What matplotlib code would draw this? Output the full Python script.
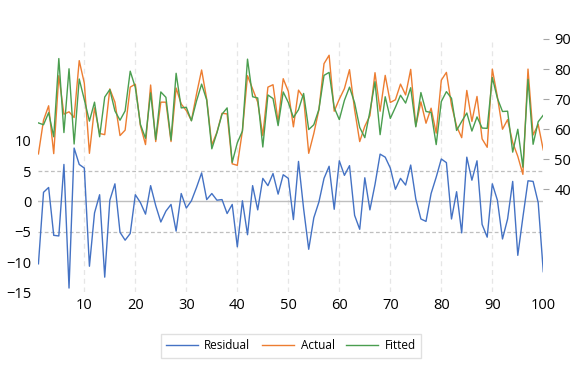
import matplotlib
matplotlib.use("Agg")
import matplotlib.pyplot as plt

plt.rcParams["font.family"] = ["Open Sans", "DejaVu Sans"]

obs = list(range(1, 101))

residual = [
    -10.3, 1.5, 2.3, -5.6, -5.7, 6.1, -14.3, 8.8, 6.1, 5.5,
    -10.7, -1.9, 1.1, -12.5, 0.2, 2.9, -5.1, -6.4, -5.3, 1.1,
    -0.2, -2.1, 2.6, -0.7, -3.4, -1.6, -0.5, -4.9, 1.3, -1.1,
    0.1, 2.3, 4.7, 0.3, 1.3, 0.2, 0.3, -2.0, -0.5, -7.5,
    0.1, -5.5, 2.6, -1.4, 3.8, 2.6, 4.6, 1.2, 4.4, 3.8,
    -3.0, 6.6, -1.2, -7.9, -2.7, -0.1, 3.8, 5.8, -1.3, 6.7,
    4.3, 5.9, -2.3, -4.6, 3.9, -1.4, 2.8, 7.8, 7.3, 5.5,
    2.0, 3.8, 2.7, 6.0, 0.4, -2.9, -3.3, 1.3, 4.0, 7.0,
    6.4, -2.9, 1.6, -5.2, 7.3, 3.5, 6.7, -3.8, -5.9, 2.9,
    0.2, -6.2, -2.9, 3.3, -8.9, -2.6, 3.4, 3.3, -0.2, -11.6,
]

actual = [
    51.8, 63.0, 67.8, 51.9, 77.8, 65.0, 65.8, 63.9, 82.8, 75.3,
    52.0, 67.1, 58.6, 58.2, 73.4, 69.0, 57.9, 59.7, 74.0, 75.0,
    61.2, 54.9, 74.7, 55.9, 69.0, 69.0, 55.9, 73.7, 68.4, 66.2,
    62.9, 71.7, 79.7, 70.0, 54.8, 59.0, 65.3, 65.1, 48.5, 48.0,
    59.5, 77.8, 73.4, 69.0, 57.9, 74.0, 74.8, 62.4, 76.8, 72.6,
    60.8, 73.0, 70.5, 52.0, 58.6, 66.5, 81.8, 84.6, 66.0, 70.0,
    73.5, 79.8, 66.5, 55.9, 61.0, 64.5, 78.8, 66.0, 77.9, 68.9,
    69.8, 75.0, 71.4, 79.9, 61.1, 69.1, 62.0, 67.0, 58.7, 76.3,
    78.9, 68.0, 61.0, 57.2, 72.9, 62.6, 70.9, 56.8, 54.0, 80.0,
    70.8, 60.0, 63.2, 55.6, 51.0, 45.0, 80.0, 58.1, 61.6, 53.1,
]

fitted = [
    62.1, 61.5, 65.5, 57.5, 83.5, 58.9, 80.1, 55.1, 76.7, 69.8,
    62.7, 69.0, 57.5, 70.7, 73.2, 66.1, 63.0, 66.1, 79.3, 73.9,
    61.6, 57.0, 72.1, 56.6, 72.4, 70.6, 56.4, 78.6, 67.1, 67.3,
    62.8, 69.4, 75.0, 69.7, 53.5, 58.8, 65.0, 67.1, 49.0, 55.5,
    59.4, 83.3, 70.8, 70.4, 54.1, 71.4, 70.2, 61.2, 72.4, 68.9,
    63.9, 66.5, 71.9, 59.9, 61.5, 66.6, 77.9, 78.9, 67.2, 63.2,
    69.6, 74.0, 68.8, 60.6, 57.2, 65.9, 75.8, 58.2, 70.8, 63.6,
    67.3, 71.3, 68.7, 73.8, 60.8, 72.2, 65.9, 65.6, 54.9, 69.2,
    72.5, 70.3, 59.6, 62.6, 65.4, 59.4, 64.1, 60.4, 60.3, 77.2,
    70.3, 65.9, 66.0, 52.4, 60.0, 47.4, 76.6, 55.0, 62.5, 64.7,
]

left_ticks = [-15, -10, -5, 0, 5, 10]
right_ticks = [40, 50, 60, 70, 80, 90]
x_ticks = [10, 20, 30, 40, 50, 60, 70, 80, 90, 100]

blue = "#4472C4"
orange = "#ED7D31"
green = "#4A9E4F"

fig = plt.figure(figsize=(5.84, 3.70), dpi=100)
ax = fig.add_axes([0.0658, 0.21, 0.8645, 0.6846])
ax2 = ax.twinx()

# reference lines on the residual scale
ax.axhline(0, color="#BFBFBF", lw=1.0, zorder=1)
for v in (5, -5):
    ax.axhline(v, color="#BFBFBF", lw=0.9, ls=(0, (3, 2)), zorder=1)
for xv in x_ticks[:-1]:
    ax.axvline(xv, color="#E6E6E6", lw=0.9, ls=(0, (4, 3)), zorder=0)

l1, = ax.plot(obs, residual, color=blue, lw=1.0, zorder=3, label="Residual")
l2, = ax2.plot(obs, actual, color=orange, lw=1.0, label="Actual")
l3, = ax2.plot(obs, fitted, color=green, lw=1.0, label="Fitted")

ax.set_xlim(1, 100)
ax.set_ylim(-15, 26.8)
ax2.set_ylim(5.8, 90)

ax.set_yticks(left_ticks)
ax.set_xticks(x_ticks)
ax2.set_yticks(right_ticks)

for a in (ax, ax2):
    for s in a.spines.values():
        s.set_visible(False)

ax.tick_params(axis="y", length=0, pad=5, labelsize=10.5)
ax.tick_params(axis="x", length=0, pad=4, labelsize=10.5)
ax2.tick_params(axis="y", length=4, width=0.8, color="#A6A6A6", pad=4, labelsize=10.5)

fig.legend(handles=[l1, l2, l3], loc="center", bbox_to_anchor=(0.498, 0.065),
           ncol=3, frameon=True, fancybox=False, edgecolor="#D9D9D9",
           fontsize=8.5, handlelength=2.7, handletextpad=0.55,
           columnspacing=1.0, borderpad=0.45, borderaxespad=0)

fig.savefig("out.png", dpi=100)
